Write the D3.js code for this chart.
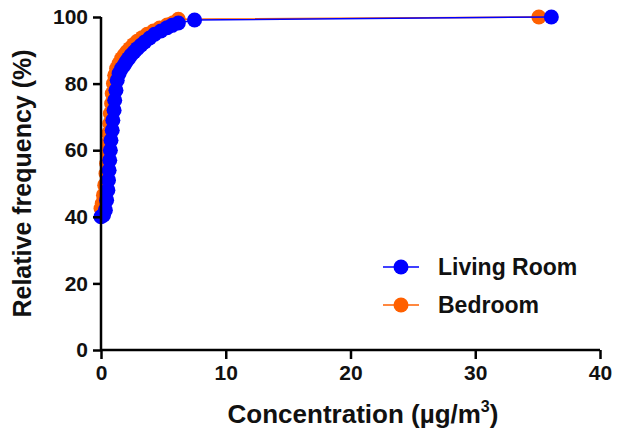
<!DOCTYPE html>
<html>
<head>
<meta charset="utf-8">
<script src="https://cdn.jsdelivr.net/npm/d3@7/dist/d3.min.js"></script>
<style>
  body { margin: 0; background: #fff; }
  svg { font-family: "Liberation Sans", Arial, sans-serif; font-weight: bold; }
</style>
</head>
<body>
<div id="chart"></div>
<script>
// cumulative distributions
var livingX = [0, 0.2, 0.35, 0.45, 0.55, 0.6, 0.65, 0.7, 0.75, 0.8, 0.9, 0.95, 1.05, 1.1, 1.2, 1.3, 1.45, 1.65, 1.85, 2.0, 2.2, 2.4, 2.65, 2.9, 3.2, 3.5, 3.9, 4.3, 4.8, 5.3, 5.7, 6.2, 7.5, 36.1];
var livingY = [40, 40.5, 42, 45, 48, 51, 54, 57, 60, 63, 66, 69, 72, 75, 78, 81, 83, 84.5, 85.5, 86.5, 87.5, 88.5, 89.5, 90.5, 91.5, 92.5, 93.7, 94.8, 95.8, 96.8, 97.5, 98.2, 99.1, 100];

var bedX = [0, 0.1, 0.2, 0.3, 0.4, 0.45, 0.5, 0.55, 0.6, 0.7, 0.75, 0.85, 0.9, 1.0, 1.1, 1.25, 1.45, 1.65, 1.85, 2.05, 2.3, 2.6, 2.9, 3.3, 3.7, 4.2, 4.7, 5.3, 5.8, 6.2, 35.1];
var bedY = [42.5, 44, 46.5, 49.5, 53, 56, 59, 62, 65, 68, 71, 74, 77, 80, 82.5, 84.5, 86, 87.5, 88.5, 89.5, 90.5, 91.7, 92.7, 93.8, 94.8, 95.8, 96.7, 97.6, 98.3, 99.3, 100];

var xTicks = [0, 10, 20, 30, 40];
var yTicks = [0, 20, 40, 60, 80, 100];

var series = [
  { name: "Bedroom", xs: bedX, ys: bedY, color: "#ff6000" },
  { name: "Living Room", xs: livingX, ys: livingY, color: "#0000ff" }
];

var width = 617, height = 441;
var margin = { left: 101, right: 17, top: 17, bottom: 91 };

var svg = d3.select("#chart").append("svg")
  .attr("width", width)
  .attr("height", height);

var x = d3.scaleLinear().domain([0, 40]).range([margin.left, width - margin.right]);
var y = d3.scaleLinear().domain([0, 100]).range([height - margin.bottom, margin.top]);

// series: bedroom underneath, living room on top
series.forEach(function(s) {
  var pts = s.xs.map(function(v, i) { return [v, s.ys[i]]; });
  var g = svg.append("g");
  g.append("path")
    .datum(pts)
    .attr("fill", "none")
    .attr("stroke", s.color)
    .attr("stroke-width", 1.5)
    .attr("d", d3.line().x(function(d) { return x(d[0]); }).y(function(d) { return y(d[1]); }));
  g.selectAll("circle")
    .data(pts)
    .enter()
    .append("circle")
      .attr("cx", function(d) { return x(d[0]); })
      .attr("cy", function(d) { return y(d[1]); })
      .attr("r", 7.5)
      .attr("fill", s.color);
});

// axes
var xAxis = svg.append("g")
  .attr("transform", "translate(0," + y(0) + ")")
  .call(d3.axisBottom(x).tickValues(xTicks).tickSize(9).tickPadding(6));
var yAxis = svg.append("g")
  .attr("transform", "translate(" + x(0) + ",0)")
  .call(d3.axisLeft(y).tickValues(yTicks).tickSize(8).tickPadding(5));

[xAxis, yAxis].forEach(function(a) {
  a.select(".domain").attr("stroke", "#000").attr("stroke-width", 2.5);
  a.selectAll(".tick line").attr("stroke", "#000").attr("stroke-width", 2.5);
  a.selectAll(".tick text")
    .attr("fill", "#111")
    .style("font-size", "21px")
    .style("font-family", "'Liberation Sans', Arial, sans-serif")
    .style("font-weight", "bold");
});
xAxis.select(".domain").attr("d", "M" + x(0) + ",0H" + x(40));
yAxis.select(".domain").attr("d", "M0," + y(0) + "V" + y(100));

// axis titles
var xTitle = svg.append("text")
  .attr("x", 363)
  .attr("y", 423)
  .attr("text-anchor", "middle")
  .style("font-size", "26px")
  .attr("fill", "#111");
xTitle.append("tspan").text("Concentration (\u00b5g/m");
xTitle.append("tspan").attr("dy", -11).style("font-size", "16px").text("3");
xTitle.append("tspan").attr("dy", 11).text(")");

svg.append("text")
  .attr("transform", "translate(31," + (y(50)) + ") rotate(-90)")
  .attr("text-anchor", "middle")
  .style("font-size", "25px")
  .attr("fill", "#111")
  .text("Relative frequency (%)");

// legend
var legend = svg.append("g").attr("transform", "translate(383,267)");
series.slice().reverse().forEach(function(s, i) {
  var row = legend.append("g").attr("transform", "translate(0," + (i * 38) + ")");
  row.append("line")
    .attr("x1", 0).attr("x2", 36)
    .attr("stroke", s.color).attr("stroke-width", 1.5);
  row.append("circle").attr("cx", 18).attr("r", 7.5).attr("fill", s.color);
  row.append("text")
    .attr("x", 55).attr("y", 8)
    .style("font-size", "23px")
    .attr("fill", "#111")
    .text(s.name);
});
</script>
</body>
</html>
